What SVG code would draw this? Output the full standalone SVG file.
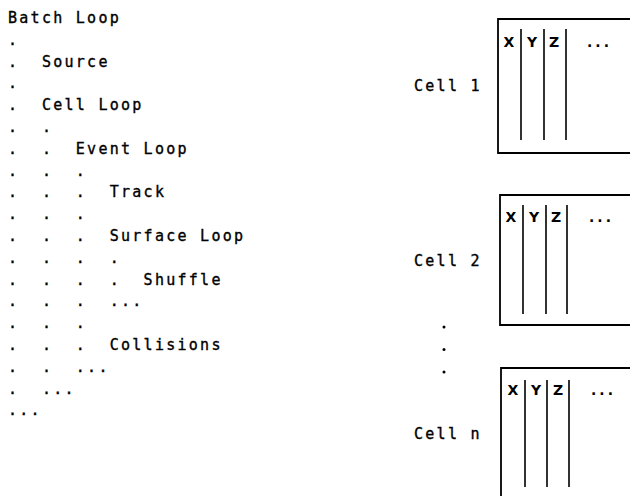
<svg xmlns="http://www.w3.org/2000/svg" width="630" height="496" viewBox="0 0 630 496">
<style>
.t{font-family:"DejaVu Sans Mono","Liberation Mono",monospace;font-size:15px;letter-spacing:2.27px;fill:#000;stroke:#000;stroke-width:0.35;white-space:pre}
.h{font-family:"DejaVu Sans","Liberation Sans",sans-serif;font-size:14px;font-weight:bold;fill:#000;text-anchor:middle}
.e{font-family:"DejaVu Sans","Liberation Sans",sans-serif;font-size:14px;font-weight:bold;fill:#000;letter-spacing:3px}
.b{fill:none;stroke:#000;stroke-width:1.8}
.d{stroke:#000;stroke-width:1.6}
</style>
<rect width="630" height="496" fill="#fff"/>
<g id="loops">
<text class="t" xml:space="preserve" x="8" y="23">Batch Loop</text>
<text class="t" xml:space="preserve" x="8" y="44.8">.</text>
<text class="t" xml:space="preserve" x="8" y="66.6">.  Source</text>
<text class="t" xml:space="preserve" x="8" y="88.4">.</text>
<text class="t" xml:space="preserve" x="8" y="110.2">.  Cell Loop</text>
<text class="t" xml:space="preserve" x="8" y="132">.  .</text>
<text class="t" xml:space="preserve" x="8" y="153.8">.  .  Event Loop</text>
<text class="t" xml:space="preserve" x="8" y="175.6">.  .  .</text>
<text class="t" xml:space="preserve" x="8" y="197.4">.  .  .  Track</text>
<text class="t" xml:space="preserve" x="8" y="219.2">.  .  .</text>
<text class="t" xml:space="preserve" x="8" y="241">.  .  .  Surface Loop</text>
<text class="t" xml:space="preserve" x="8" y="262.8">.  .  .  .</text>
<text class="t" xml:space="preserve" x="8" y="284.6">.  .  .  .  Shuffle</text>
<text class="t" xml:space="preserve" x="8" y="306.4">.  .  .  ...</text>
<text class="t" xml:space="preserve" x="8" y="328.2">.  .  .</text>
<text class="t" xml:space="preserve" x="8" y="350">.  .  .  Collisions</text>
<text class="t" xml:space="preserve" x="8" y="371.8">.  .  ...</text>
<text class="t" xml:space="preserve" x="8" y="393.6">.  ...</text>
<text class="t" xml:space="preserve" x="8" y="415.4">...</text>
</g>
<g id="cell1">
<text class="t" xml:space="preserve" x="414" y="91">Cell 1</text>
<path class="b" d="M630,19 H498 V153 H630"/>
<path class="d" d="M521,29 V140 M544,29 V140 M566,29 V140"/>
<text class="h" x="509" y="47">X</text>
<text class="h" x="532" y="47">Y</text>
<text class="h" x="554" y="47">Z</text>
<text class="e" x="587" y="47">...</text>
</g>
<g id="cell2">
<text class="t" xml:space="preserve" x="414" y="266">Cell 2</text>
<path class="b" d="M630,195 H500 V325 H630"/>
<path class="d" d="M523,205 V314 M546,205 V314 M567,205 V314"/>
<text class="h" x="511" y="222">X</text>
<text class="h" x="534" y="222">Y</text>
<text class="h" x="556" y="222">Z</text>
<text class="e" x="589" y="222">...</text>
</g>
<g id="ellipsis">
<circle cx="444" cy="327" r="1.5"/>
<circle cx="444" cy="349.5" r="1.5"/>
<circle cx="444" cy="372" r="1.5"/>
</g>
<g id="celln">
<text class="t" xml:space="preserve" x="414" y="439">Cell n</text>
<path class="b" d="M630,368 H501 V496"/>
<path class="d" d="M525,380 V487 M547,380 V487 M569,380 V487"/>
<text class="h" x="513" y="395">X</text>
<text class="h" x="536" y="395">Y</text>
<text class="h" x="558" y="395">Z</text>
<text class="e" x="591" y="395">...</text>
</g>
</svg>
